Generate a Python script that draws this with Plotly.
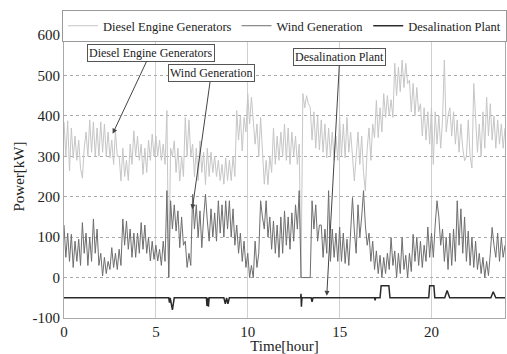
import numpy as np
import plotly.graph_objects as go

# time axis: 0.1 h sampling, 0..24 h
time_h = np.round(np.arange(241) * 0.1, 2)

diesel_kw = [
    385,300,388,264,370,296,350,290,340,270,
    246,320,360,300,390,310,385,300,370,300,
    385,310,380,300,360,296,340,280,363,300,
    300,239,320,250,290,240,330,280,363,300,
    350,290,330,255,320,260,340,290,355,300,
    350,300,340,290,330,280,413,0,320,300,
    338,260,320,239,300,250,396,300,390,300,
    330,250,320,240,338,260,310,230,320,250,
    310,260,300,250,290,240,280,231,296,240,
    290,240,300,250,413,340,400,313,396,360,
    455,380,446,396,330,380,300,396,316,231,
    290,230,300,260,370,280,350,290,360,300,
    380,290,370,280,360,300,350,280,330,0,
    455,420,450,430,421,340,410,320,400,316,
    390,310,380,296,370,300,360,290,350,290,
    396,300,380,296,396,310,360,300,239,300,
    360,280,350,260,214,320,370,290,380,346,
    438,346,420,360,455,396,450,400,440,396,
    530,450,520,460,538,470,530,480,488,410,
    480,400,470,410,430,350,420,340,410,330,
    420,280,410,330,400,320,390,538,360,400,
    420,350,410,330,390,310,380,320,289,300,
    390,300,271,480,400,310,380,300,410,320,
    446,350,430,340,400,320,390,330,380,320,
    370,
]

wind_kw = [
    130,50,110,40,107,25,90,40,95,30,
    136,60,110,30,100,40,145,60,120,30,
    60,4,50,10,40,20,74,25,60,20,
    70,30,145,80,140,70,120,50,110,50,
    110,60,136,70,130,60,99,41,90,45,
    80,41,70,30,90,40,215,0,190,120,
    180,115,165,74,150,80,90,25,60,30,
    206,120,180,100,165,74,150,206,140,90,
    170,100,160,90,190,110,180,100,190,120,
    190,100,170,80,130,60,110,40,90,25,
    60,0,30,0,90,25,60,190,150,120,
    190,100,150,70,140,60,130,50,150,60,
    165,80,150,70,160,90,180,120,215,0,
    0,0,0,0,0,190,120,180,90,130,
    130,50,120,60,215,40,120,50,110,40,
    125,40,110,35,95,30,110,198,115,60,
    180,100,150,215,130,80,110,40,90,20,
    66,10,55,0,50,10,60,20,99,30,
    66,0,60,10,99,20,55,0,60,15,
    107,40,100,30,90,25,80,40,125,50,
    110,50,130,190,150,80,120,40,100,20,
    110,30,120,40,190,80,170,60,150,40,
    115,30,100,25,90,20,60,10,50,0,
    40,5,60,124,80,50,110,40,100,50,
    80,
]

desal_t = [0, 5.7, 5.74, 5.78, 5.9, 6.0, 6.1, 7.75, 7.78, 7.82, 7.86, 7.9,
           8.7, 8.78, 8.85, 8.92, 9.0, 9.1, 12.88, 12.9, 12.92, 12.95,
           13.45, 13.5, 13.55, 16.9, 16.93, 16.96, 17.2, 17.26, 17.68, 17.74,
           19.85, 19.9, 20.13, 20.18, 20.72, 20.85, 20.99, 23.23, 23.36, 23.5, 24]
desal_kw = [-50, -50, -62, -50, -80, -50, -50, -50, -70, -50, -72, -50,
            -50, -65, -50, -65, -50, -50, -50, -40, -72, -50,
            -50, -60, -50, -50, -56, -50, -50, -20, -20, -50,
            -50, -20, -20, -50, -50, -32, -50, -50, -35, -50, -50]

x_ticks = [0, 5, 10, 15, 20]
y_ticks = [-100, 0, 100, 200, 300, 400, 500, 600]

serif = "Liberation Serif"

fig = go.Figure()
fig.add_trace(go.Scatter(x=time_h, y=diesel_kw, mode="lines", name="Diesel Engine Generators",
                         line=dict(color="#c6c6c6", width=1)))
fig.add_trace(go.Scatter(x=time_h, y=wind_kw, mode="lines", name="Wind Generation",
                         line=dict(color="#6e6e6e", width=1)))
fig.add_trace(go.Scatter(x=desal_t, y=desal_kw, mode="lines", name="Desalination Plant",
                         line=dict(color="#2a2a2a", width=1.5)))

ann_common = dict(showarrow=True, arrowhead=2, arrowsize=1, arrowwidth=1, arrowcolor="#444",
                  bordercolor="#555", borderwidth=1, borderpad=1, bgcolor="white",
                  font=dict(family=serif, size=12, color="#222"))
fig.add_annotation(x=2.65, y=356, ax=38, ay=-81, text="Diesel Engine Generators", **ann_common)
fig.add_annotation(x=6.98, y=169, ax=19, ay=-136, text="Wind Generation", **ann_common)
fig.add_annotation(x=14.3, y=-45, ax=13, ay=-239, text="Desalination Plant", **ann_common)

fig.update_layout(
    width=507, height=354,
    margin=dict(l=64, r=2, t=35, b=36),
    paper_bgcolor="white", plot_bgcolor="white",
    font=dict(family=serif, size=14, color="#222"),
    showlegend=True,
    legend=dict(orientation="h", x=0.0, y=1.088, xanchor="left", yanchor="top",
                bordercolor="#999", borderwidth=1, bgcolor="white",
                font=dict(family=serif, size=12.5, color="#222"),
                itemwidth=30, tracegroupgap=0),
    xaxis=dict(range=[0, 24], tickvals=x_ticks, ticktext=[str(v) for v in x_ticks],
               showgrid=True, gridcolor="#d0d0d0", gridwidth=1,
               showline=True, linecolor="#aaa", mirror=True, ticks="", zeroline=False,
               title=dict(text="Time[hour]", font=dict(size=15), standoff=2),
               tickfont=dict(size=15)),
    yaxis=dict(range=[-100, 600], tickvals=y_ticks, ticktext=[str(v) for v in y_ticks],
               showgrid=True, gridcolor="#aaa", gridwidth=1, griddash="dot",
               showline=True, linecolor="#aaa", mirror=True, ticks="", zeroline=False,
               title=dict(text="Power[kW]", font=dict(size=15), standoff=4),
               tickfont=dict(size=15)),
)

fig.write_html("out.html")
